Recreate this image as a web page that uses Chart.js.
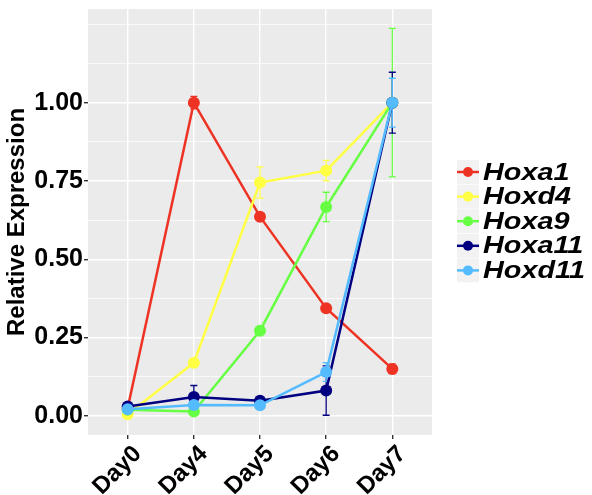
<!DOCTYPE html>
<html>
<head>
<meta charset="utf-8">
<script src="https://cdn.jsdelivr.net/npm/chart.js@4"></script>
<style>
  html, body { margin: 0; padding: 0; background: #ffffff; }
  #wrap { width: 592px; height: 495px; }
</style>
</head>
<body>
<div id="wrap"><canvas id="chart" width="592" height="495"></canvas></div>
<script>
// Days on the x axis
const days = ['Day0', 'Day4', 'Day5', 'Day6', 'Day7'];
const yTicks = [0, 0.25, 0.5, 0.75, 1.0];

// Gene names and colours
const genes = ['Hoxa1', 'Hoxd4', 'Hoxa9', 'Hoxa11', 'Hoxd11'];
const colors = ['#EE3324', '#FFFF44', '#66FF44', '#000080', '#55BBFF'];

// Mean relative expression per gene
const hoxa1 = [0.025, 1.0, 0.636, 0.344, 0.15];
const hoxd4 = [0.005, 0.17, 0.745, 0.783, 1.0];
const hoxa9 = [0.02, 0.014, 0.272, 0.667, 1.0];
const hoxa11 = [0.03, 0.06, 0.048, 0.081, 1.0];
const hoxd11 = [0.021, 0.035, 0.034, 0.14, 1.0];

// Error (+/-) per gene
const hoxa1Err = [0.01, 0.02, 0.01, 0.01, 0.015];
const hoxd4Err = [0.005, 0.01, 0.05, 0.033, 0.01];
const hoxa9Err = [0.005, 0.01, 0.01, 0.047, 0.237];
const hoxa11Err = [0.005, 0.037, 0.012, 0.079, 0.097];
const hoxd11Err = [0.005, 0.01, 0.01, 0.03, 0.078];

const values = [hoxa1, hoxd4, hoxa9, hoxa11, hoxd11];
const errors = [hoxa1Err, hoxd4Err, hoxa9Err, hoxa11Err, hoxd11Err];

function isMajor(v) { return yTicks.indexOf(v) >= 0; }

const datasets = genes.map(function(g, i) {
    return {
        label: g,
        data: values[i].map(function(v, j) { return { x: j, y: v }; }),
        err: errors[i],
        borderColor: colors[i],
        backgroundColor: colors[i],
        borderWidth: 2.5,
        pointRadius: 6,
        pointHoverRadius: 6,
        pointBorderWidth: 0,
        tension: 0,
        order: genes.length - i   // last gene drawn on top, like ggplot
    };
});

// Grey panel behind the plot
const panelBg = {
    id: 'panelBg',
    beforeDraw(chart) {
        const a = chart.chartArea;
        const ctx = chart.ctx;
        ctx.save();
        ctx.fillStyle = '#EBEBEB';
        ctx.fillRect(a.left, a.top, a.right - a.left, a.bottom - a.top);
        ctx.restore();
    }
};

// Error bars drawn through the scales
const errorBars = {
    id: 'errorBars',
    beforeDatasetsDraw(chart) {
        const ctx = chart.ctx;
        const xs = chart.scales.x;
        const ys = chart.scales.y;
        ctx.save();
        chart.data.datasets.forEach(function(ds) {
            ctx.strokeStyle = ds.borderColor;
            ctx.lineWidth = 1.3;
            ds.data.forEach(function(p, j) {
                const e = ds.err[j];
                const x = xs.getPixelForValue(p.x);
                const y1 = ys.getPixelForValue(p.y + e);
                const y2 = ys.getPixelForValue(p.y - e);
                ctx.beginPath();
                ctx.moveTo(x, y1); ctx.lineTo(x, y2);
                ctx.moveTo(x - 3.5, y1); ctx.lineTo(x + 3.5, y1);
                ctx.moveTo(x - 3.5, y2); ctx.lineTo(x + 3.5, y2);
                ctx.stroke();
            });
        });
        ctx.restore();
    }
};

// ggplot-like legend on the right
const sideLegend = {
    id: 'sideLegend',
    afterDraw(chart) {
        const ctx = chart.ctx;
        ctx.save();
        chart.data.datasets.forEach(function(ds, i) {
            const cy = 172 + i * 24.6;
            ctx.fillStyle = '#F2F2F2';
            ctx.fillRect(457, cy - 12, 22, 24);
            ctx.strokeStyle = ds.borderColor;
            ctx.lineWidth = 2.5;
            ctx.beginPath();
            ctx.moveTo(457, cy); ctx.lineTo(479, cy);
            ctx.stroke();
            ctx.fillStyle = ds.borderColor;
            ctx.beginPath();
            ctx.arc(468, cy, 5, 0, Math.PI * 2);
            ctx.fill();
            ctx.save();
            ctx.translate(483, cy);
            ctx.scale(1.2, 1);
            ctx.fillStyle = '#000000';
            ctx.font = 'italic bold 24px "Liberation Sans", Arial, sans-serif';
            ctx.textBaseline = 'middle';
            ctx.fillText(ds.label, 0, 1);
            ctx.restore();
        });
        ctx.restore();
    }
};

const ctx = document.getElementById('chart').getContext('2d');
const chart = new Chart(ctx, {
    type: 'line',
    data: { datasets: datasets },
    options: {
        responsive: false,
        animation: false,
        layout: { padding: { top: 9, right: 160, left: 0, bottom: 0 } },
        plugins: {
            legend: { display: false },
            tooltip: { enabled: false }
        },
        scales: {
            x: {
                type: 'linear',
                min: -0.6,
                max: days.length - 1 + 0.6,
                afterBuildTicks: function(scale) {
                    scale.ticks = days.map(function(d, i) { return { value: i }; });
                },
                afterFit: function(scale) { scale.height = 60; },
                border: { display: false },
                grid: { color: '#FFFFFF', lineWidth: 1.4, tickColor: '#333333', tickLength: 4 },
                ticks: {
                    autoSkip: false,
                    maxRotation: 45,
                    minRotation: 45,
                    padding: 1,
                    labelOffset: 10,
                    color: '#000000',
                    font: { family: '"Liberation Sans", Arial, sans-serif', size: 24, weight: 'bold' },
                    callback: function(v) { return days[v]; }
                }
            },
            y: {
                min: -0.061,
                max: 1.299,
                afterBuildTicks: function(scale) {
                    const t = [];
                    for (let v = 0; v <= 1.25001; v += 0.125) t.push({ value: Math.round(v * 1000) / 1000 });
                    scale.ticks = t;
                },
                afterFit: function(scale) { scale.width = 88; },
                border: { display: false },
                grid: {
                    color: '#FFFFFF',
                    lineWidth: function(c) { return isMajor(c.tick.value) ? 1.4 : 0.7; },
                    tickColor: function(c) { return isMajor(c.tick.value) ? '#333333' : 'rgba(0,0,0,0)'; },
                    tickLength: 4
                },
                ticks: {
                    autoSkip: false,
                    padding: 1,
                    color: '#000000',
                    font: function(c) {
                        const major = c.tick && isMajor(c.tick.value);
                        return { family: '"Liberation Sans", Arial, sans-serif', size: major ? 25 : 2, weight: 'bold' };
                    },
                    callback: function(v) { return isMajor(v) ? v.toFixed(2) : ''; }
                },
                title: {
                    display: true,
                    text: 'Relative Expression',
                    color: '#000000',
                    padding: { top: 3, bottom: 0 },
                    font: { family: '"Liberation Sans", Arial, sans-serif', size: 24, weight: 'bold' }
                }
            }
        }
    },
    plugins: [panelBg, errorBars, sideLegend]
});
</script>
</body>
</html>
